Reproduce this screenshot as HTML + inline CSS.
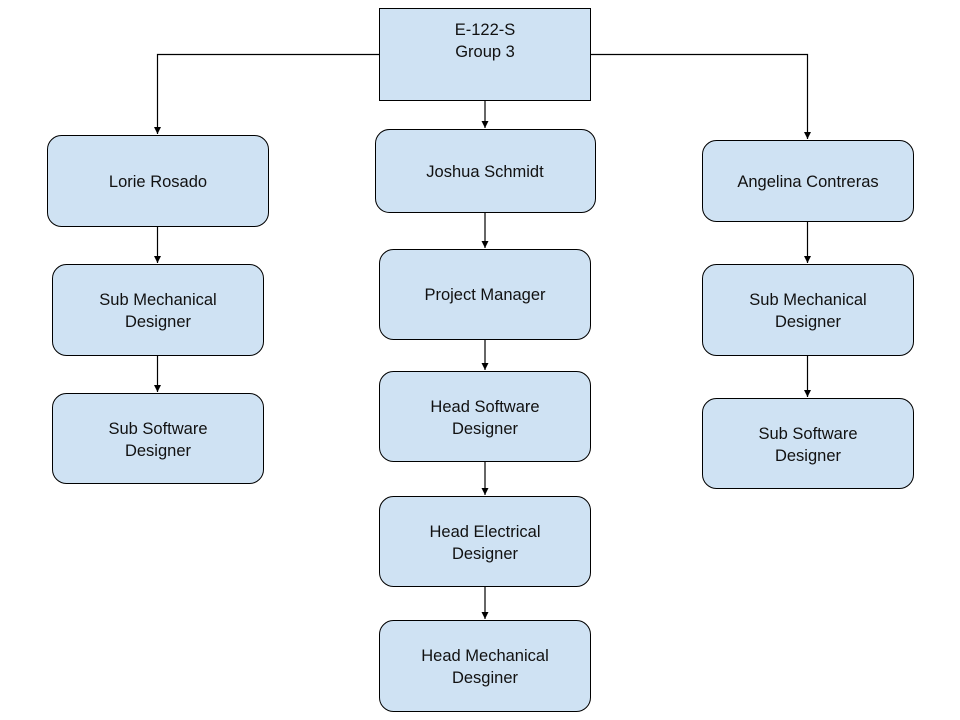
<!DOCTYPE html>
<html><head><meta charset="utf-8"><style>
html,body{margin:0;padding:0;background:#fff;width:960px;height:720px;overflow:hidden}
text{font-family:"Liberation Sans",Arial,sans-serif;font-size:16.5px;fill:#111;text-anchor:middle}
</style></head><body>
<svg width="960" height="720" viewBox="0 0 960 720" xmlns="http://www.w3.org/2000/svg">
<defs><marker id="a" markerWidth="8" markerHeight="8" refX="7" refY="3.5" orient="auto" markerUnits="userSpaceOnUse"><path d="M0,0 L7,3.5 L0,7 Z" fill="#000"/></marker></defs>
<g fill="none" stroke="#000" stroke-width="1.2">
<path d="M379,54.5 H157.5 V134" marker-end="url(#a)"/>
<path d="M590,54.5 H807.5 V139" marker-end="url(#a)"/>
<path d="M485,100 V128" marker-end="url(#a)"/>
<path d="M157.5,226 V263" marker-end="url(#a)"/>
<path d="M157.5,355 V392" marker-end="url(#a)"/>
<path d="M485,212 V248" marker-end="url(#a)"/>
<path d="M485,339 V370" marker-end="url(#a)"/>
<path d="M485,461 V495" marker-end="url(#a)"/>
<path d="M485,586 V619" marker-end="url(#a)"/>
<path d="M807.5,221 V263" marker-end="url(#a)"/>
<path d="M807.5,355 V397" marker-end="url(#a)"/>
</g>
<g fill="#cfe2f3" stroke="#000" stroke-width="1">
<rect x="379.5" y="8.5" width="211" height="92"/>
<rect x="47.5" y="135.5" width="221" height="91" rx="14"/>
<rect x="52.5" y="264.5" width="211" height="91" rx="14"/>
<rect x="52.5" y="393.5" width="211" height="90" rx="14"/>
<rect x="375.5" y="129.5" width="220" height="83" rx="14"/>
<rect x="379.5" y="249.5" width="211" height="90" rx="14"/>
<rect x="379.5" y="371.5" width="211" height="90" rx="14"/>
<rect x="379.5" y="496.5" width="211" height="90" rx="14"/>
<rect x="379.5" y="620.5" width="211" height="91" rx="14"/>
<rect x="702.5" y="140.5" width="211" height="81" rx="14"/>
<rect x="702.5" y="264.5" width="211" height="91" rx="14"/>
<rect x="702.5" y="398.5" width="211" height="90" rx="14"/>
</g>
<text x="485" y="35">E-122-S</text><text x="485" y="57">Group 3</text>
<text x="158" y="187">Lorie Rosado</text>
<text x="158" y="305">Sub Mechanical</text><text x="158" y="327">Designer</text>
<text x="158" y="434">Sub Software</text><text x="158" y="456">Designer</text>
<text x="485" y="177">Joshua Schmidt</text>
<text x="485" y="300">Project Manager</text>
<text x="485" y="412">Head Software</text><text x="485" y="434">Designer</text>
<text x="485" y="537">Head Electrical</text><text x="485" y="559">Designer</text>
<text x="485" y="661">Head Mechanical</text><text x="485" y="683">Desginer</text>
<text x="808" y="187">Angelina Contreras</text>
<text x="808" y="305">Sub Mechanical</text><text x="808" y="327">Designer</text>
<text x="808" y="439">Sub Software</text><text x="808" y="461">Designer</text>
</svg>
</body></html>
